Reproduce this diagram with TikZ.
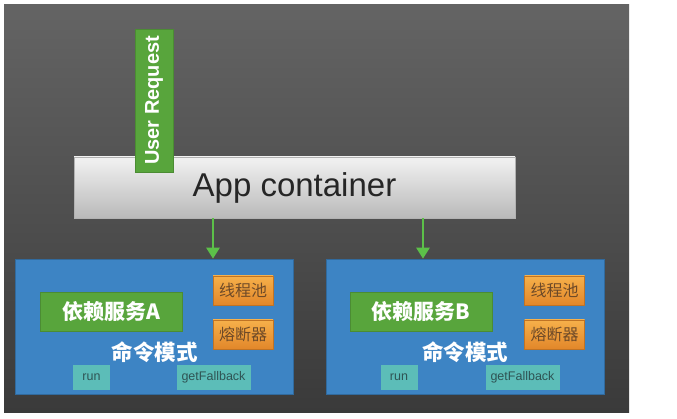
\documentclass[tikz,border=0pt]{standalone}
\usepackage{fontspec}
\setmainfont{Liberation Sans}
\newfontfamily\cjk{Noto Sans CJK SC}
\usetikzlibrary{arrows.meta,positioning,calc}
\definecolor{bgtop}{HTML}{646464}
\definecolor{bgbot}{HTML}{3A3A3A}
\definecolor{cmdblue}{HTML}{3D84C4}
\definecolor{depgreen}{HTML}{58A53C}
\definecolor{arrgreen}{HTML}{5CC049}
\definecolor{orangetop}{HTML}{F6B04A}
\definecolor{orangebot}{HTML}{E2872A}
\definecolor{orangetext}{HTML}{6E4A28}
\definecolor{methteal}{HTML}{5CBDB8}
\definecolor{methtext}{HTML}{2F5454}

\begin{document}
\begin{tikzpicture}[
    x=1pt, y=-1pt,
    cmdbox/.style={rectangle, fill=cmdblue, draw=cmdblue!80!black, line width=0.6pt, minimum width=278pt, minimum height=135pt},
    depbox/.style={rectangle, fill=depgreen, draw=depgreen!85!black, line width=0.5pt, minimum width=142pt, minimum height=39pt, text=white, font=\cjk\bfseries\fontsize{21}{21}\selectfont},
    resbox/.style={rectangle, top color=orangetop, bottom color=orangebot, draw=orangebot!85!black, line width=0.5pt, minimum width=60pt, minimum height=29pt, text=orangetext, font=\cjk\fontsize{16}{16}\selectfont},
    methbox/.style={rectangle, fill=methteal, minimum height=25pt, inner sep=2pt, text=methtext, font=\fontsize{12.5}{12.5}\selectfont},
    cmdlabel/.style={text=white, font=\cjk\bfseries\fontsize{21.5}{21.5}\selectfont},
    arrow/.style={-{Triangle[width=13pt,length=11pt]}, line width=2.8pt, draw=arrgreen}
]
\useasboundingbox (0,0) rectangle (677,419);
\fill[white] (0,0) rectangle (677,419);
\shade[top color=bgtop, bottom color=bgbot] (4,5) rectangle (629,412);

% App container and request
\node[rectangle, top color=gray!10, bottom color=gray!55, draw=gray!60, minimum width=441pt, minimum height=61pt, font=\fontsize{33}{33}\selectfont, text=black!85] (app) at (294.5,187.5) {App container};
\node[rectangle, fill=depgreen, draw=depgreen!85!black, rotate=90, minimum width=143pt, minimum height=38pt, text=white, font=\bfseries\fontsize{20}{20}\selectfont] (req) at (154,100.5) {User Request};

% Command A
\node[cmdbox] (cmdA) at (154,326.5) {};
\node[depbox] (depA) at (111,311.5) {依赖服务A};
\node[resbox] (poolA) at (243,290.5) {线程池};
\node[resbox] (breakA) at (243,334.5) {熔断器};
\node[cmdlabel] (modeA) at (154.5,352) {命令模式};
\node[methbox, minimum width=37pt] (runA) at (91.5,377.5) {run};
\node[methbox, minimum width=74pt] (fallA) at (213.5,377.5) {getFallback};

% Command B
\node[cmdbox] (cmdB) at (465,326.5) {};
\node[depbox] (depB) at (421,311.5) {依赖服务B};
\node[resbox] (poolB) at (554.5,290.5) {线程池};
\node[resbox] (breakB) at (554.5,334.5) {熔断器};
\node[cmdlabel] (modeB) at (465,352) {命令模式};
\node[methbox, minimum width=37pt] (runB) at (399,377.5) {run};
\node[methbox, minimum width=74pt] (fallB) at (522.5,377.5) {getFallback};

% Arrows
\coordinate (xA) at (213,0);
\coordinate (xB) at (423,0);
\draw[arrow] (app.south -| xA) -- (cmdA.north -| xA);
\draw[arrow] (app.south -| xB) -- (cmdB.north -| xB);

\end{tikzpicture}
\end{document}
